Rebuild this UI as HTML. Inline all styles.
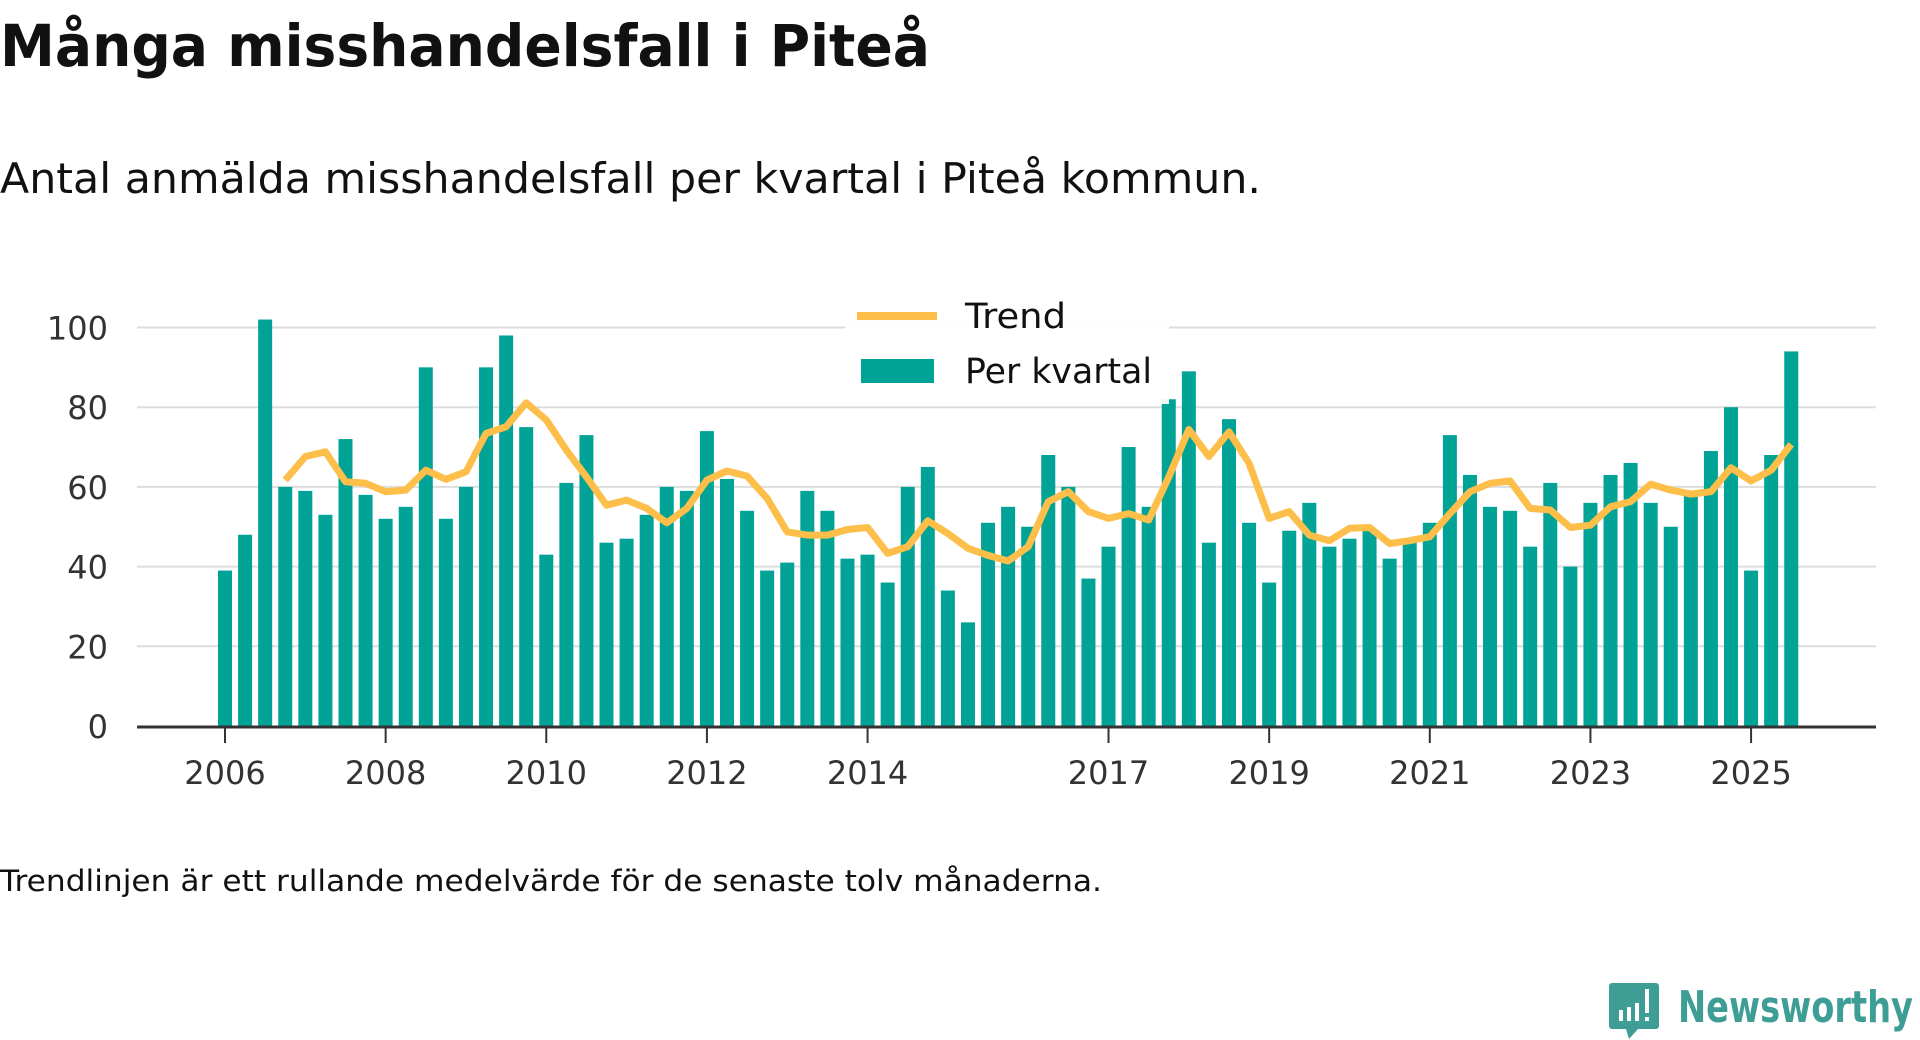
<!DOCTYPE html>
<html><head><meta charset="utf-8"><style>
html,body{margin:0;padding:0;background:#fff;width:1920px;height:1040px;overflow:hidden}
svg{display:block;font-family:"DejaVu Sans","Liberation Sans",sans-serif}
</style></head><body>
<svg id="chart" width="1920" height="1040" viewBox="0 0 1920 1040">
<text x="0" y="66" font-size="58" font-weight="bold" fill="#111" textLength="930" lengthAdjust="spacingAndGlyphs">Många misshandelsfall i Piteå</text>
<text x="0" y="193" font-size="42" fill="#111" textLength="1261" lengthAdjust="spacingAndGlyphs">Antal anmälda misshandelsfall per kvartal i Piteå kommun.</text>
<g id="grid"></g>
<g id="bars"></g>
<g id="trend"></g>
<g id="axes"></g>
<g>
<rect x="845" y="294" width="324" height="110" fill="#fff" fill-opacity="0.92"/>
<line x1="857" y1="316" x2="937" y2="316" stroke="#fdbe4a" stroke-width="8"/>
<text x="965" y="328" font-size="35" fill="#111" textLength="101" lengthAdjust="spacingAndGlyphs">Trend</text>
<rect x="861" y="359" width="73" height="24" fill="#00a396"/>
<text x="965" y="383" font-size="35" fill="#111" textLength="187" lengthAdjust="spacingAndGlyphs">Per kvartal</text>
</g>
<text x="0" y="891" font-size="29" fill="#111" textLength="1102" lengthAdjust="spacingAndGlyphs">Trendlinjen är ett rullande medelvärde för de senaste tolv månaderna.</text>
<g>
<path d="M1612 983 h44 a3 3 0 0 1 3 3 v40 a3 3 0 0 1 -3 3 h-18 l-9 10 l-3 -10 h-14 a3 3 0 0 1 -3 -3 v-40 a3 3 0 0 1 3 -3z" fill="#3e9d95"/>
<rect x="1619" y="1010" width="4" height="11" fill="#fff"/><rect x="1627" y="1007" width="4" height="14" fill="#fff"/><rect x="1635" y="1003" width="4" height="18" fill="#fff"/><rect x="1645" y="989" width="4" height="24" fill="#fff"/><rect x="1645" y="1017" width="4" height="4" fill="#fff"/>
<text x="1678" y="1022" font-size="44" font-weight="bold" fill="#3e9d95" textLength="235" lengthAdjust="spacingAndGlyphs">Newsworthy</text>
</g>
</svg>
<script>
const years = [2006,2008,2010,2012,2014,2017,2019,2021,2023,2025];
const yTicks = [0,20,40,60,80,100];
const bars = [39,48,102,60,59,53,72,58,52,55,90,52,60,90,98,75,43,61,73,46,47,53,60,59,74,62,54,39,41,59,54,42,43,36,60,65,34,26,51,55,50,68,60,37,45,70,55,82,89,46,77,51,36,49,56,45,47,49,42,46,51,73,63,55,54,45,61,40,56,63,66,56,50,58,69,80,39,68,94];
const trend = [null,null,null,61.7,67.6,68.8,61.3,60.9,58.8,59.2,64.2,61.9,63.8,73.4,75.1,81.1,76.8,69.2,62.5,55.4,56.7,54.6,51,54.6,61.7,64,62.7,57.1,48.7,47.9,47.9,49.3,49.8,43.3,45,51.5,48.3,44.6,42.8,41.4,45,56.3,58.8,53.8,52.1,53.3,51.7,62.5,74.4,67.6,73.8,65.9,52.1,53.8,47.9,46.5,49.6,49.8,45.8,46.5,47.5,53.3,58.8,60.9,61.5,54.6,54.2,49.8,50.4,55,56.3,60.7,59.2,58.2,58.8,64.8,61.5,64.2,70.7];
const NS='http://www.w3.org/2000/svg';
const x0=225, qw=20.08, y0=726, yPer=3.985;
function xq(i){return x0+i*qw;}
function xy(yr){return x0+(yr-2006)*4*qw;}
function yv(v){return y0-v*yPer;}
function mk(tag,attrs,parent){const e=document.createElementNS(NS,tag);for(const k in attrs)e.setAttribute(k,attrs[k]);parent.appendChild(e);return e;}
const grid=document.getElementById('grid'),barsG=document.getElementById('bars'),tg=document.getElementById('trend'),ax=document.getElementById('axes');
yTicks.forEach(t=>{
  if(t>0){const l=mk('line',{x1:137,x2:1876,y1:yv(t),y2:yv(t),stroke:'#dddddd','stroke-width':2},grid);
  
  }
  const tx=mk('text',{x:108,y:yv(t)+12,'font-size':32,'text-anchor':'end',fill:'#333'},ax);
  tx.textContent=t;
  
  
});
bars.forEach((v,i)=>{
  const r=mk('rect',{x:xq(i)-7,y:yv(v),width:14,height:v*yPer,fill:'#00a396'},barsG);
  
  
});
let d='';trend.forEach((v,i)=>{if(v!=null)d+=(d?'L':'M')+xq(i).toFixed(1)+' '+yv(v).toFixed(1)+' ';});
const p=mk('path',{d:d,fill:'none',stroke:'#fdbe4a','stroke-width':7,'stroke-linejoin':'round'},tg);


const axl=mk('line',{x1:137,x2:1876,y1:y0+1,y2:y0+1,stroke:'#333','stroke-width':3},ax);


years.forEach(yr=>{
  const tk=mk('line',{x1:xy(yr),x2:xy(yr),y1:y0+2,y2:y0+17,stroke:'#333','stroke-width':2},ax);
  
  
  const tx=mk('text',{x:xy(yr),y:784,'font-size':32,'text-anchor':'middle',fill:'#333'},ax);
  tx.textContent=yr;
  
  
});
</script>
</body></html>
